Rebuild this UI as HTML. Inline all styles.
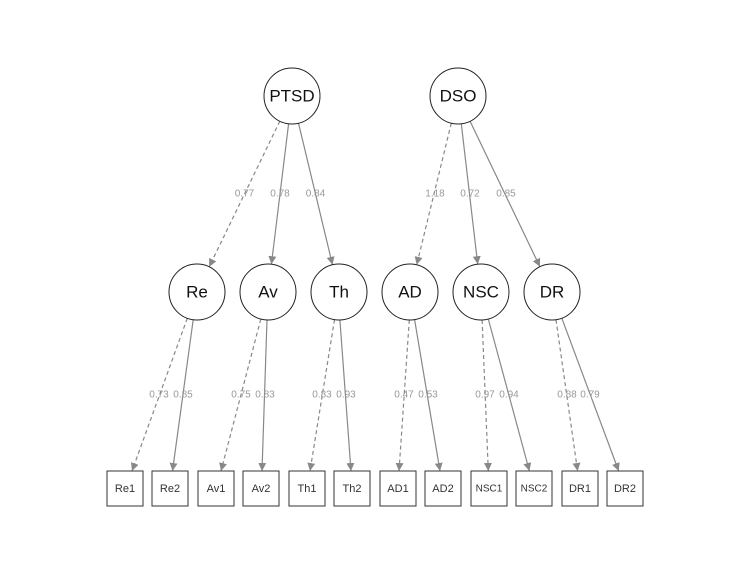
<!DOCTYPE html>
<html><head><meta charset="utf-8"><style>
html,body{margin:0;padding:0;background:#fff;}
svg{display:block;}
text{font-family:"Liberation Sans",Arial,sans-serif;}
.n{font-size:17px;fill:#111;text-anchor:middle;dominant-baseline:central;}
.b{font-size:11px;fill:#333;text-anchor:middle;dominant-baseline:central;}
.l{font-size:10px;fill:#999;text-anchor:middle;dominant-baseline:central;}
.e{stroke:#888;stroke-width:1.2;fill:none;marker-end:url(#ah);}
.d{stroke-dasharray:4,3;}
circle{fill:#fff;stroke:#222;stroke-width:1;}
rect{fill:#fff;stroke:#333;stroke-width:1;}
</style></head><body>
<svg width="750" height="587" viewBox="0 0 750 587" xmlns="http://www.w3.org/2000/svg">
<defs><marker id="ah" viewBox="0 0 10 10" refX="10" refY="5" markerWidth="8" markerHeight="8" orient="auto" markerUnits="userSpaceOnUse"><path d="M0,0 L10,5 L0,10 z" fill="#888"/></marker></defs>
<!-- top edges -->
<line class="e d" x1="279.8" y1="121.2" x2="209.2" y2="266.8"/>
<line class="e" x1="288.6" y1="123.8" x2="271.4" y2="264.2"/>
<line class="e" x1="298.5" y1="123.2" x2="332.5" y2="264.8"/>
<line class="e d" x1="451.3" y1="123.2" x2="416.7" y2="264.8"/>
<line class="e" x1="461.3" y1="123.8" x2="477.7" y2="264.2"/>
<line class="e" x1="470.1" y1="121.3" x2="539.9" y2="266.7"/>
<text class="l" x="244.5" y="194">0.77</text>
<text class="l" x="280" y="194">0.78</text>
<text class="l" x="315.5" y="194">0.84</text>
<text class="l" x="435" y="194">1.18</text>
<text class="l" x="470" y="194">0.72</text>
<text class="l" x="506" y="194">0.85</text>
<!-- bottom edges -->
<line class="e d" x1="187.3" y1="318.3" x2="132" y2="471"/>
<line class="e" x1="193.2" y1="319.7" x2="172.5" y2="471"/>
<line class="e d" x1="260.8" y1="319.1" x2="221" y2="471"/>
<line class="e" x1="267" y1="320" x2="262" y2="471"/>
<line class="e d" x1="334.5" y1="319.6" x2="310" y2="471"/>
<line class="e" x1="339.9" y1="319.9" x2="351" y2="471"/>
<line class="e d" x1="409.3" y1="319.9" x2="399" y2="471"/>
<line class="e" x1="414.6" y1="319.6" x2="440" y2="471"/>
<line class="e d" x1="482.1" y1="320" x2="488.3" y2="471"/>
<line class="e" x1="488.3" y1="319" x2="529.4" y2="471"/>
<line class="e d" x1="556" y1="319.7" x2="577.6" y2="471"/>
<line class="e" x1="561.8" y1="318.2" x2="618.7" y2="471"/>
<text class="l" x="159" y="395">0.73</text>
<text class="l" x="183" y="395">0.85</text>
<text class="l" x="241" y="395">0.75</text>
<text class="l" x="265" y="395">0.83</text>
<text class="l" x="322" y="395">0.83</text>
<text class="l" x="346" y="395">0.93</text>
<text class="l" x="404" y="395">0.47</text>
<text class="l" x="428" y="395">0.53</text>
<text class="l" x="485" y="395">0.97</text>
<text class="l" x="509" y="395">0.94</text>
<text class="l" x="567" y="395">0.88</text>
<text class="l" x="590" y="395">0.79</text>
<!-- latent nodes -->
<circle cx="292" cy="96" r="28"/><text class="n" x="292" y="96">PTSD</text>
<circle cx="458" cy="96" r="28"/><text class="n" x="458" y="96">DSO</text>
<circle cx="197" cy="292" r="28"/><text class="n" x="197" y="292">Re</text>
<circle cx="268" cy="292" r="28"/><text class="n" x="268" y="292">Av</text>
<circle cx="339" cy="292" r="28"/><text class="n" x="339" y="292">Th</text>
<circle cx="410" cy="292" r="28"/><text class="n" x="410" y="292">AD</text>
<circle cx="481" cy="292" r="28"/><text class="n" x="481" y="292">NSC</text>
<circle cx="552" cy="292" r="28"/><text class="n" x="552" y="292">DR</text>
<!-- boxes -->
<rect x="107" y="471" width="36" height="35"/><text class="b" x="125" y="489">Re1</text>
<rect x="152" y="471" width="36" height="35"/><text class="b" x="170" y="489">Re2</text>
<rect x="198" y="471" width="36" height="35"/><text class="b" x="216" y="489">Av1</text>
<rect x="243" y="471" width="36" height="35"/><text class="b" x="261" y="489">Av2</text>
<rect x="289" y="471" width="36" height="35"/><text class="b" x="307" y="489">Th1</text>
<rect x="334" y="471" width="36" height="35"/><text class="b" x="352" y="489">Th2</text>
<rect x="380" y="471" width="36" height="35"/><text class="b" x="398" y="489">AD1</text>
<rect x="425" y="471" width="36" height="35"/><text class="b" x="443" y="489">AD2</text>
<rect x="471" y="471" width="36" height="35"/><text class="b" x="489" y="489" style="font-size:10px">NSC1</text>
<rect x="516" y="471" width="36" height="35"/><text class="b" x="534" y="489" style="font-size:10px">NSC2</text>
<rect x="562" y="471" width="36" height="35"/><text class="b" x="580" y="489">DR1</text>
<rect x="607" y="471" width="36" height="35"/><text class="b" x="625" y="489">DR2</text>
</svg>
</body></html>
